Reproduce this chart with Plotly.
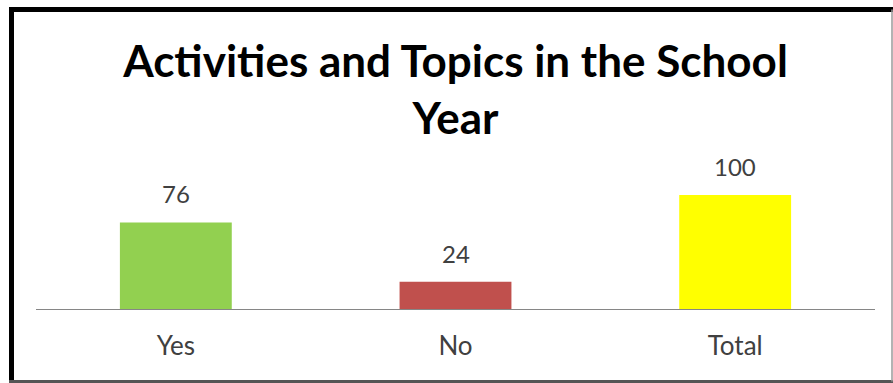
import plotly.graph_objects as go

categories = ["Yes", "No", "Total"]
values = [76, 24, 100]
bar_colors = ["#92D050", "#C0504D", "#FFFF00"]
title_text = "Activities and Topics in the School<br>Year"

W, H = 893, 383
FONT = "Lato, 'Open Sans', sans-serif"

fig = go.Figure()
fig.add_trace(go.Bar(
    x=categories, y=values,
    marker=dict(color=bar_colors, line=dict(width=0)),
    hoverinfo="x+y",
))

for c, v in zip(categories, values):
    fig.add_annotation(
        x=c, y=v, xref="x", yref="y", text=str(v), showarrow=False,
        yanchor="bottom", yshift=12,
        font=dict(family=FONT, size=24, color="#404040"),
    )

fig.update_layout(
    width=W, height=H,
    margin=dict(l=36, r=18, t=150, b=74),
    paper_bgcolor="white", plot_bgcolor="white",
    bargap=0.6,
    showlegend=False,
    title=dict(
        text=title_text, x=0.5, xref="paper", xanchor="center",
        y=1 - 76.5 / H, yref="container", yanchor="middle",
        font=dict(family=FONT, size=44, color="#000000", weight="bold"),
    ),
    xaxis=dict(
        showgrid=False, zeroline=False, showline=True,
        linecolor="#868686", linewidth=1, ticks="",
        tickfont=dict(family=FONT, size=26, color="#404040"),
        ticklabelstandoff=14,
    ),
    yaxis=dict(
        range=[0, 139.5], visible=False, showgrid=False, zeroline=False,
    ),
    shapes=[
        # frame: left and top heavy black, bottom and right gray
        dict(type="line", xref="x domain", yref="y domain",
             x0=(11.5 - 36) / 839, x1=(11.5 - 36) / 839,
             y0=(309 - 381.5) / 159, y1=(309 - 7) / 159,
             line=dict(color="#000000", width=5)),
        dict(type="line", xref="x domain", yref="y domain",
             x0=(9 - 36) / 839, x1=(893 - 36) / 839,
             y0=(309 - 9.5) / 159, y1=(309 - 9.5) / 159,
             line=dict(color="#000000", width=5)),
        dict(type="line", xref="x domain", yref="y domain",
             x0=(9 - 36) / 839, x1=(893 - 36) / 839,
             y0=(309 - 381.5) / 159, y1=(309 - 381.5) / 159,
             line=dict(color="#555555", width=3)),
        dict(type="line", xref="x domain", yref="y domain",
             x0=(892 - 36) / 839, x1=(892 - 36) / 839,
             y0=(309 - 381.5) / 159, y1=(309 - 9.5) / 159,
             line=dict(color="#9a9a9a", width=1.5)),
    ],
)

fig.write_html(
    "out.html",
    config={"displayModeBar": False},
    post_script="document.body.style.margin='0';document.body.style.overflow='hidden';",
)
